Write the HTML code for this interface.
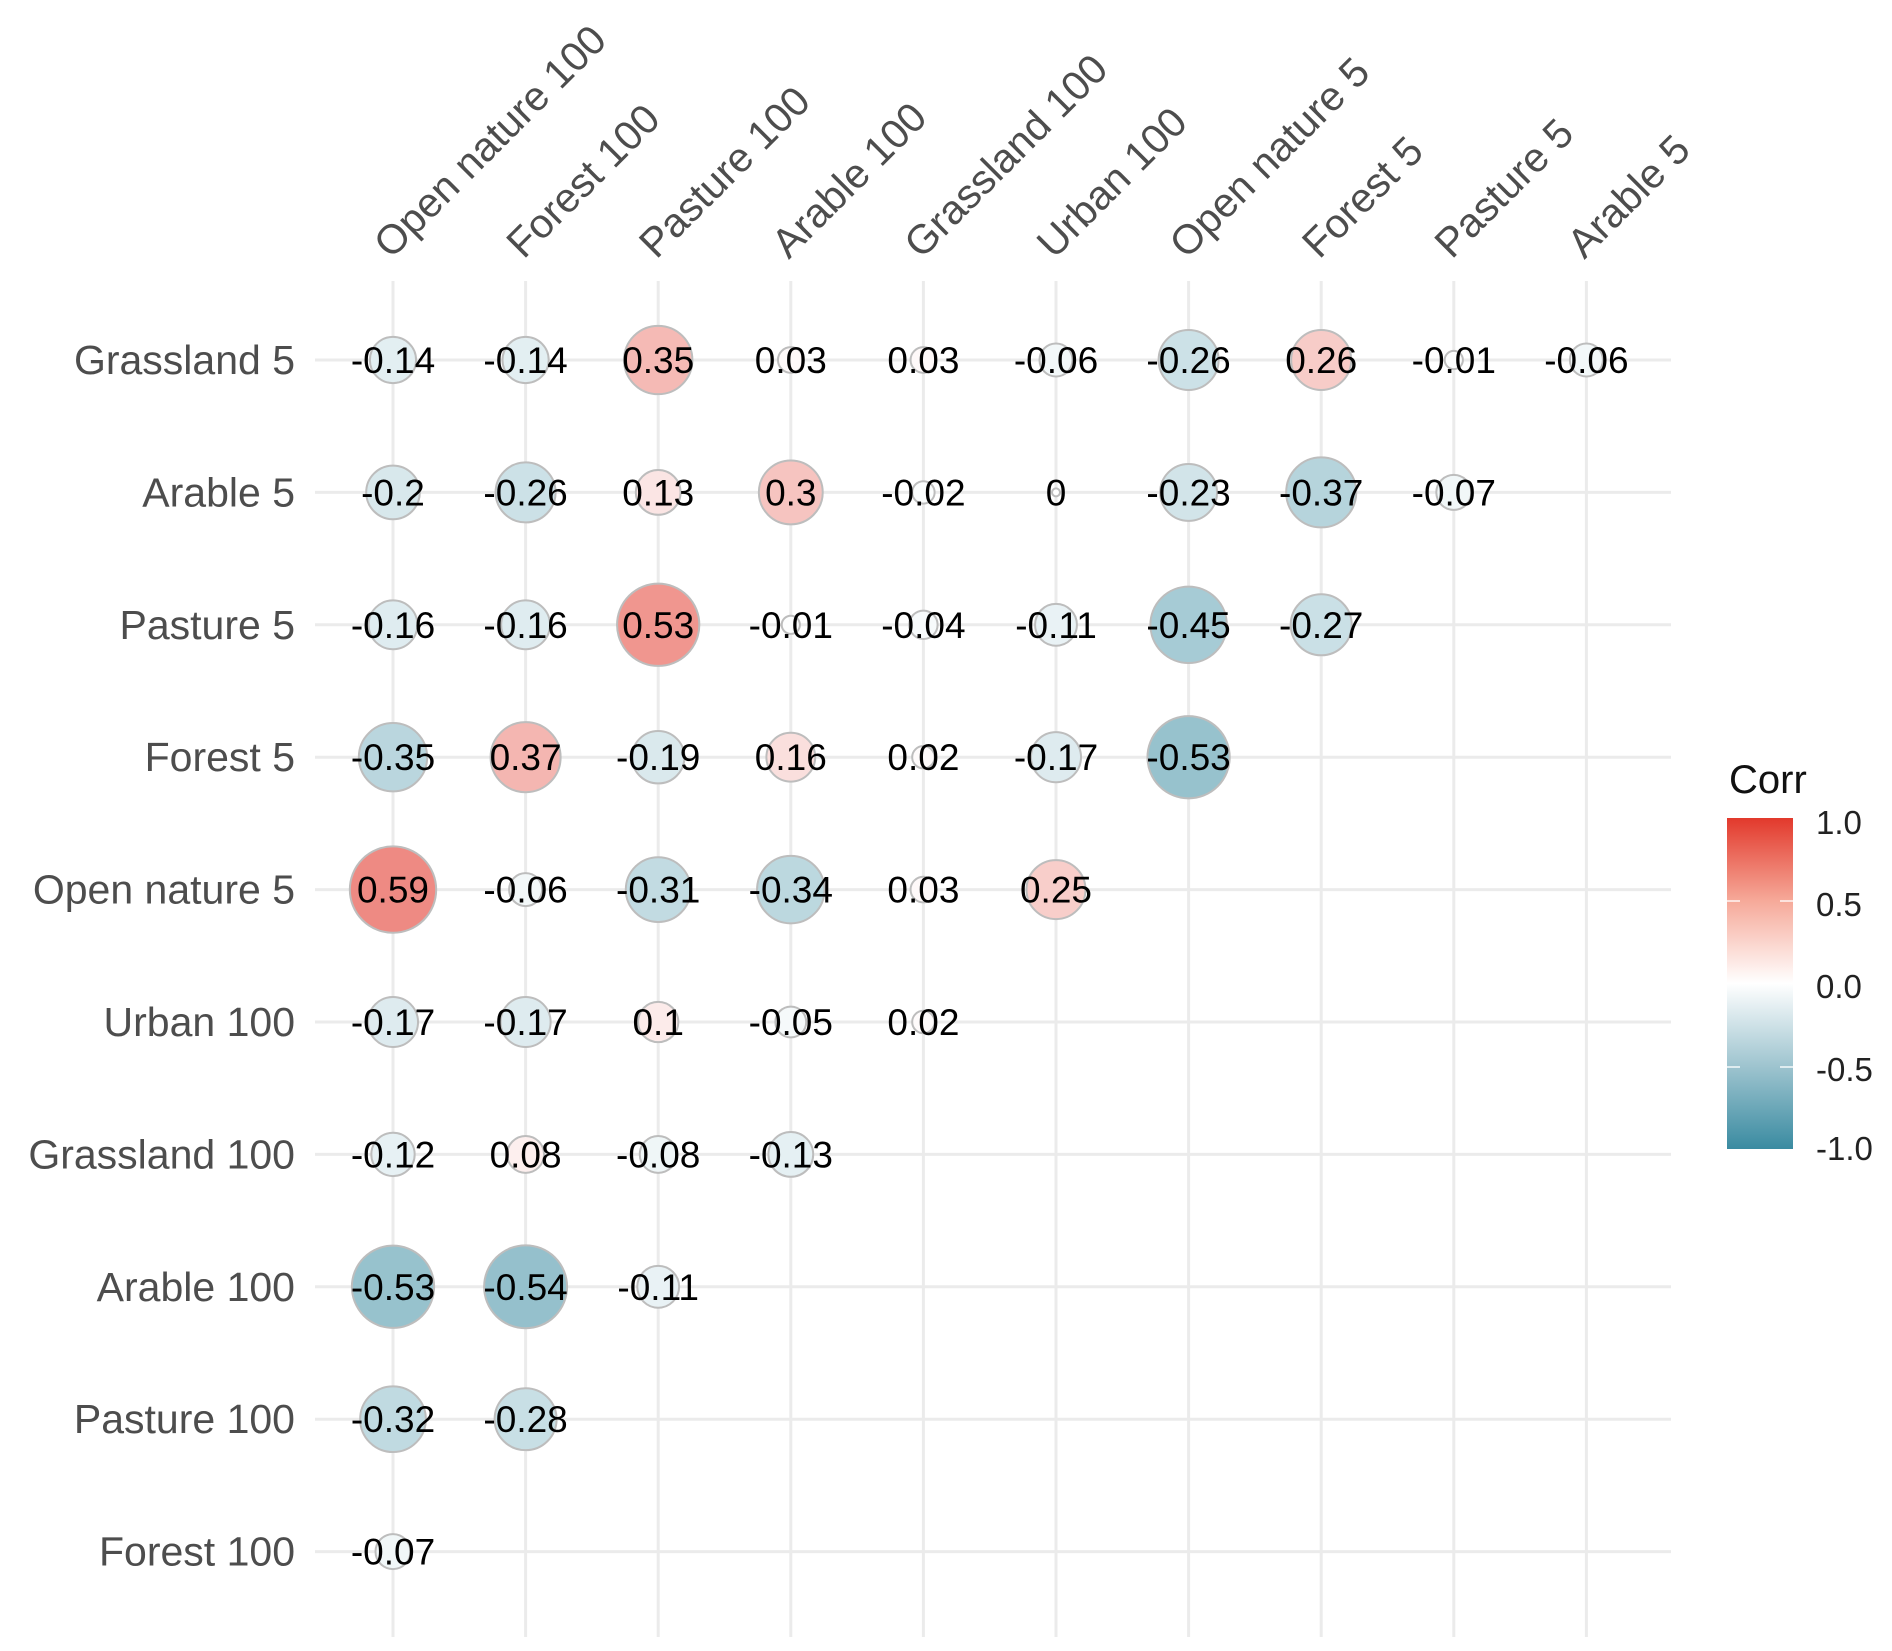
<!DOCTYPE html>
<html><head><meta charset="utf-8"><style>
html,body{margin:0;padding:0;background:#fff;}
svg{display:block;font-family:"Liberation Sans",Arial,sans-serif;}
</style></head><body>
<svg id="chart" width="1892" height="1651" viewBox="0 0 1892 1651" xmlns="http://www.w3.org/2000/svg">
<defs>
<linearGradient id="lg" x1="0" y1="1" x2="0" y2="0">
<stop offset="0" stop-color="#3a8ba1"/><stop offset="0.25" stop-color="#9ec4cf"/><stop offset="0.5" stop-color="#ffffff"/><stop offset="0.75" stop-color="#f6a999"/><stop offset="1" stop-color="#e2392c"/>
</linearGradient>
</defs>
<g id="grid"></g>
<g id="marks"></g>
<g id="labels"></g>
<g>
<text x="1729" y="793" font-size="40" fill="#111">Corr</text>
<rect x="1727" y="818" width="66" height="331" fill="url(#lg)"/>
<g stroke="#fff" stroke-width="1.5" opacity="0.9">
<line x1="1727" y1="901" x2="1740" y2="901"/><line x1="1780" y1="901" x2="1793" y2="901"/>
<line x1="1727" y1="1067" x2="1740" y2="1067"/><line x1="1780" y1="1067" x2="1793" y2="1067"/>
</g>
<g font-size="33" fill="#222">
<text x="1816" y="834">1.0</text>
<text x="1816" y="916">0.5</text>
<text x="1816" y="998">0.0</text>
<text x="1816" y="1081">-0.5</text>
<text x="1816" y="1160">-1.0</text>
</g>
</g>
</svg>
<script>
const cols = ["Open nature 100","Forest 100","Pasture 100","Arable 100","Grassland 100","Urban 100","Open nature 5","Forest 5","Pasture 5","Arable 5"];
const rows = ["Grassland 5","Arable 5","Pasture 5","Forest 5","Open nature 5","Urban 100","Grassland 100","Arable 100","Pasture 100","Forest 100"];
const rowGrassland5 = [-0.14,-0.14,0.35,0.03,0.03,-0.06,-0.26,0.26,-0.01,-0.06];
const rowArable5 = [-0.2,-0.26,0.13,0.3,-0.02,0,-0.23,-0.37,-0.07];
const rowPasture5 = [-0.16,-0.16,0.53,-0.01,-0.04,-0.11,-0.45,-0.27];
const rowForest5 = [-0.35,0.37,-0.19,0.16,0.02,-0.17,-0.53];
const rowOpenNature5 = [0.59,-0.06,-0.31,-0.34,0.03,0.25];
const rowUrban100 = [-0.17,-0.17,0.1,-0.05,0.02];
const rowGrassland100 = [-0.12,0.08,-0.08,-0.13];
const rowArable100 = [-0.53,-0.54,-0.11];
const rowPasture100 = [-0.32,-0.28];
const rowForest100 = [-0.07];
const values = [rowGrassland5,rowArable5,rowPasture5,rowForest5,rowOpenNature5,rowUrban100,rowGrassland100,rowArable100,rowPasture100,rowForest100];

const NS="http://www.w3.org/2000/svg";
const xS = i => 393 + i*132.6;
const yS = j => 360 + j*132.4;
const rS = v => 4 + 51*Math.sqrt(Math.abs(v));
function col(v){
  const lo=[58,139,161], hi=[226,57,44], w=[255,255,255];
  const t=Math.min(1,Math.abs(v)); const e=v<0?lo:hi;
  return "rgb("+w.map((c,k)=>Math.round(c+(e[k]-c)*t)).join(",")+")";
}
function mk(tag,attrs,parent){const el=document.createElementNS(NS,tag);for(const k in attrs)el.setAttribute(k,attrs[k]);parent.appendChild(el);return el;}
const grid=document.getElementById('grid'), marks=document.getElementById('marks'), labels=document.getElementById('labels');
rows.forEach((r,j)=>{
  const l=mk('line',{x1:315,x2:1671,y1:yS(j),y2:yS(j),stroke:'#ebebeb','stroke-width':3},grid);
  
  
  const t=mk('text',{x:295,y:yS(j)+14,'text-anchor':'end','font-size':41,fill:'#4d4d4d'},labels);
  t.textContent=r;
  
  
});
cols.forEach((c,i)=>{
  const l=mk('line',{x1:xS(i),x2:xS(i),y1:281,y2:1637,stroke:'#ebebeb','stroke-width':3},grid);
  
  
  const g=mk('g',{transform:`translate(${xS(i)-2},${260}) rotate(-45)`},labels);
  const t=mk('text',{'font-size':41,fill:'#4d4d4d'},g);
  t.textContent=c;
  
  
});
values.forEach((arr,j)=>{
  arr.forEach((v,i)=>{
    const ci=mk('circle',{cx:xS(i),cy:yS(j),r:rS(v),fill:col(v),stroke:'#bdbdbd','stroke-width':2},marks);
    
    
    const t=mk('text',{x:xS(i),y:yS(j)+13,'text-anchor':'middle','font-size':37,fill:'#000'},marks);
    t.textContent=String(v);
    
    
  });
});
</script>
</body></html>
